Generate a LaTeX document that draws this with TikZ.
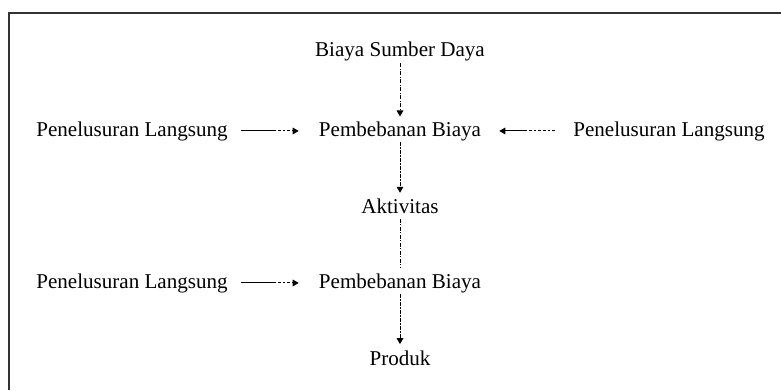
\documentclass[tikz,border=0pt]{standalone}
\usepackage{fontspec}
\setmainfont{Liberation Serif}
\usetikzlibrary{arrows.meta}

\begin{document}
\begin{tikzpicture}[x=0.75pt,y=-0.75pt,
  lbl/.style={anchor=base, inner sep=0pt, font=\fontsize{15.8}{18}\selectfont},
  flow/.style={line width=0.75pt, -{Triangle[length=4.5pt,width=5pt]},
    dash pattern=on 3pt off 1pt on 1pt off 1pt},
  trace/.style={line width=0.75pt, -{Triangle[length=4.5pt,width=5pt]},
    dash pattern=on #1 off 1.5pt on 2pt off 1.5pt on 2pt off 1.5pt on 2pt off 1.5pt on 2pt off 1.5pt on 2pt off 1.5pt on 2pt off 1.5pt on 2pt off 1.5pt on 2pt off 1.5pt on 2pt off 1.5pt on 2pt off 1.5pt on 2pt off 1.5pt}]
\useasboundingbox (0,0) rectangle (781,390);
\draw[line width=1.1pt, black!80] (9,390) -- (9,13) -- (781,13);
\node[lbl] (bsd) at (400,56) {Biaya Sumber Daya};
\node[lbl] (pb1) at (400,136) {Pembebanan Biaya};
\node[lbl] (pl1) at (132,136) {Penelusuran Langsung};
\node[lbl] (pr1) at (669,136) {Penelusuran Langsung};
\node[lbl] (akt) at (400,213) {Aktivitas};
\node[lbl] (pb2) at (400,288) {Pembebanan Biaya};
\node[lbl] (pl2) at (132,288) {Penelusuran Langsung};
\node[lbl] (prd) at (400,365) {Produk};
% vertical flow
\draw[flow, shorten <=2pt, shorten >=3.5pt] (bsd.south) -- (pb1.north);
\draw[flow, shorten <=1pt, shorten >=4pt] (pb1.south) -- (akt.north);
\draw[flow, -, shorten <=4pt, shorten >=4.5pt] (akt.south) -- (pb2.north);
\draw[flow, shorten <=1pt, shorten >=4.5pt] (pb2.south) -- (prd.north);
% direct tracing
\draw[trace=26pt, shorten <=10pt, shorten >=15pt] (pl1.east) -- (pb1.west);
\draw[trace=16.5pt, {Triangle[length=4.5pt,width=5pt]}-, shorten <=13.5pt, shorten >=12.75pt] (pb1.east) -- (pr1.west);
\draw[trace=26pt, shorten <=10pt, shorten >=15pt] (pl2.east) -- (pb2.west);
\end{tikzpicture}
\end{document}
